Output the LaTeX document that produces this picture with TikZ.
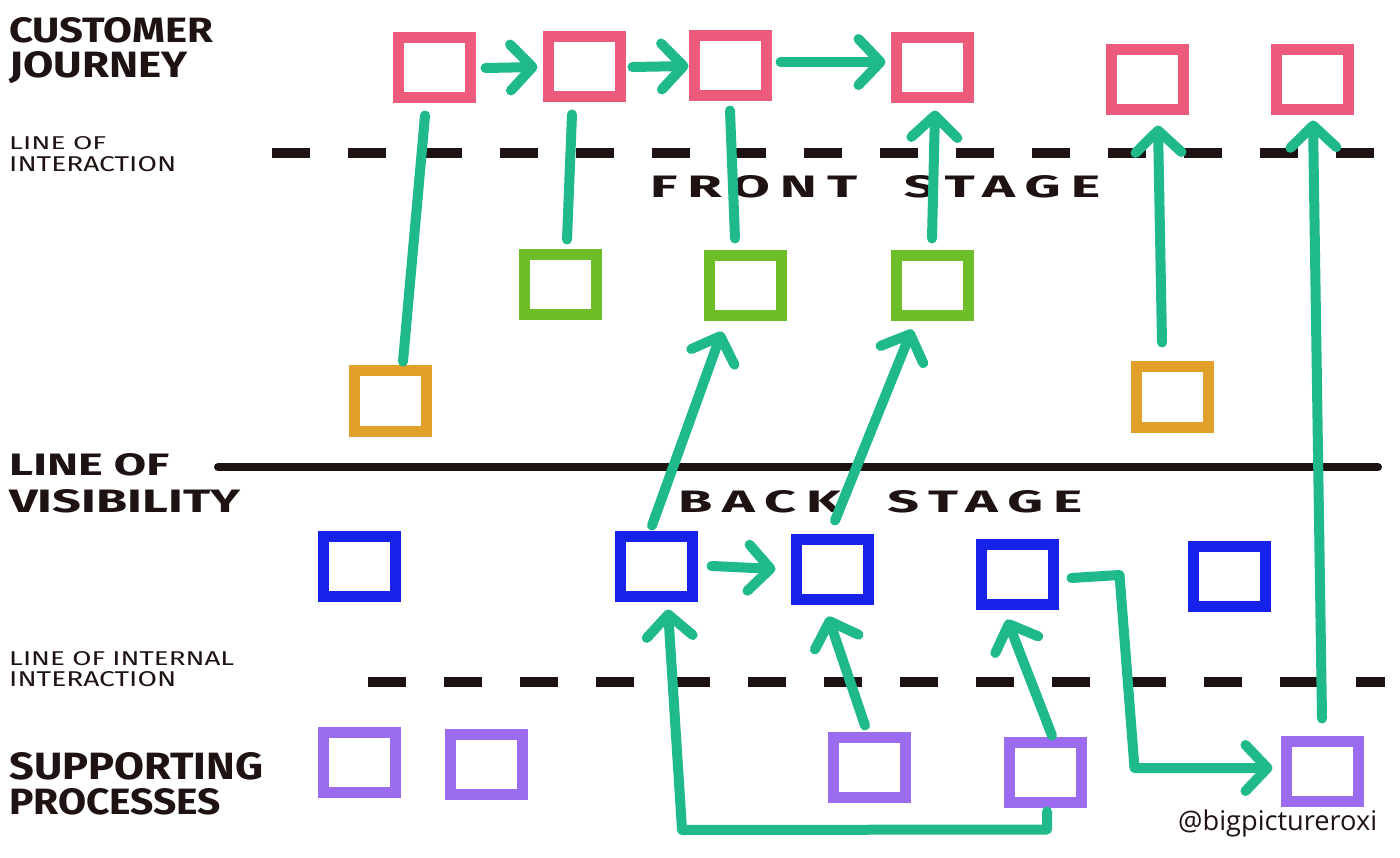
\documentclass[tikz,border=0pt]{standalone}
\usepackage{fontspec}
\usepackage{graphicx}
\setmainfont{Fira Sans}
\newfontfamily\tagfont{Open Sans}
\newfontfamily\spacedfont[LetterSpace=18]{Fira Sans}
\usetikzlibrary{arrows.meta}
\definecolor{cjpink}{HTML}{EC5A7C}
\definecolor{cjgreen}{HTML}{6EBE2A}
\definecolor{cjorange}{HTML}{E0A02A}
\definecolor{cjblue}{HTML}{1622EA}
\definecolor{cjpurple}{HTML}{9B6BF0}
\definecolor{cjteal}{HTML}{1FB98C}
\definecolor{cjink}{HTML}{1E1212}
\newcommand\fitline[3]{\resizebox{#1}{#2}{#3}}
\tikzset{
  sbox/.style={draw=#1, line width=11pt, minimum width=72pt, minimum height=60pt, inner sep=0pt, fill=white},
  flowline/.style={draw=cjteal, line width=10pt, line cap=round, line join=round},
  flowarrow/.style={flowline, -{Straight Barb[length=22pt,width=46pt,round]}},
  sepdash/.style={draw=cjink, line width=10pt, dash pattern=on 38pt off 38pt},
  sepsolid/.style={draw=cjink, line width=8pt, line cap=round},
  big/.style={anchor=base west, inner sep=0pt, font=\bfseries, text=cjink},
  small/.style={anchor=base west, inner sep=0pt, text=cjink},
}
\begin{document}
\begin{tikzpicture}[x=1pt, y=-1pt]
\useasboundingbox[fill=white] (0,0) rectangle (1400,858);

% separator lines
\draw[sepdash] (272,153) -- (1385,153);
\draw[sepsolid] (218,467) -- (1378,467);
\draw[sepdash] (368,682) -- (1385,682);

% labels
\node[big] (cj1) at (9,43) {\fitline{204pt}{25pt}{CUSTOMER}};
\node[big] (cj2) at (9,78) {\fitline{178pt}{26pt}{JOURNEY}};
\node[small] (li1) at (9,150) {\fitline{97pt}{13pt}{LINE OF}};
\node[small] (li2) at (9,172) {\fitline{167pt}{15pt}{INTERACTION}};
\node[big] (lv1) at (9,475) {\fitline{160pt}{22pt}{LINE OF}};
\node[big] (lv2) at (9,512) {\fitline{231pt}{23pt}{VISIBILITY}};
\node[small] (lii1) at (9,665) {\fitline{225pt}{14pt}{LINE OF INTERNAL}};
\node[small] (lii2) at (9,686) {\fitline{167pt}{15pt}{INTERACTION}};
\node[big] (sp1) at (9,779) {\fitline{254pt}{27pt}{SUPPORTING}};
\node[big] (sp2) at (9,814) {\fitline{212pt}{26pt}{PROCESSES}};
\node[big] (fs) at (650,198) {\fitline{450pt}{22pt}{\spacedfont\bfseries FRONT\ \ STAGE}};
\node[big] (bs) at (678,512) {\fitline{404pt}{22pt}{\spacedfont\bfseries BACK\ \ STAGE}};
\node[anchor=base west, inner sep=0pt, text=cjink] (tag) at (1178,830) {\resizebox{199pt}{!}{\tagfont @bigpictureroxi}};

% customer journey
\node[sbox=cjpink] (p1) at (434,68) {};
\node[sbox=cjpink] (p2) at (584,67) {};
\node[sbox=cjpink] (p3) at (730,66) {};
\node[sbox=cjpink] (p4) at (932,68) {};
\node[sbox=cjpink] (p5) at (1147,80) {};
\node[sbox=cjpink] (p6) at (1312,80) {};
% front stage
\node[sbox=cjgreen] (g1) at (560,285) {};
\node[sbox=cjgreen] (g2) at (745,286) {};
\node[sbox=cjgreen] (g3) at (932,286) {};
\node[sbox=cjorange] (o1) at (390,401) {};
\node[sbox=cjorange] (o2) at (1172,397) {};
% back stage
\node[sbox=cjblue] (b1) at (359,566) {};
\node[sbox=cjblue] (b2) at (656,566) {};
\node[sbox=cjblue] (b3) at (832,569) {};
\node[sbox=cjblue] (b4) at (1017,574) {};
\node[sbox=cjblue] (b5) at (1229,576) {};
% supporting processes
\node[sbox=cjpurple] (u1) at (359,762) {};
\node[sbox=cjpurple] (u2) at (486,764) {};
\node[sbox=cjpurple] (u3) at (869,767) {};
\node[sbox=cjpurple] (u4) at (1045,772) {};
\node[sbox=cjpurple] (u5) at (1322,771) {};

% connectors
\draw[flowarrow] ([xshift=10pt]p1.east) -- ([xshift=-5pt]p2.west);
\draw[flowarrow] ([xshift=7pt]p2.east) -- ([xshift=0pt]p3.west);
\draw[flowarrow] ([xshift=9pt,yshift=4pt]p3.east) -- ([xshift=-5pt,yshift=6pt]p4.west);

\draw[flowline] ([xshift=13pt,yshift=4pt]o1.north) -- ([xshift=-9pt,yshift=-12pt]p1.south);
\draw[flowline] ([xshift=7pt,yshift=10pt]g1.north) -- ([xshift=-12pt,yshift=-12pt]p2.south);
\draw[flowline] ([xshift=-10pt,yshift=12pt]g2.north) -- ([xshift=0pt,yshift=-9pt]p3.south);
\draw[flowarrow] ([xshift=0pt,yshift=12pt]g3.north) -- ([xshift=3pt,yshift=-7pt]p4.south);
\draw[flowarrow] ([xshift=-10pt,yshift=19pt]o2.north) -- ([xshift=11pt,yshift=-10pt]p5.south);
\draw[flowarrow] ([xshift=0pt,yshift=17pt]u5.north) -- ([xshift=1pt,yshift=-5pt]p6.south);

\draw[flowarrow] ([xshift=-4pt,yshift=5pt]b2.north) -- ([xshift=-23pt,yshift=-10pt]g2.south);
\draw[flowarrow] ([xshift=3pt,yshift=13pt]b3.north) -- ([xshift=-20pt,yshift=-8pt]g3.south);
\draw[flowarrow] ([xshift=14pt]b2.east) -- ([xshift=-15pt]b3.west);

\draw[flowarrow] ([xshift=-4pt,yshift=6pt]u3.north) -- ([xshift=-4pt,yshift=-12pt]b3.south);
\draw[flowarrow] ([xshift=7pt,yshift=1pt]u4.north) -- ([xshift=-10pt,yshift=-10pt]b4.south);
\draw[flowarrow] ([xshift=2pt,yshift=-4pt]u4.south) -- ++(0,18) -- (682,830) -- ([xshift=12pt,yshift=-8pt]b2.south);
\draw[flowarrow] ([xshift=13pt,yshift=-4pt]b4.east) -- ++(48,-3) -- ++(15,193) -- ([xshift=-8pt,yshift=3pt]u5.west);
\end{tikzpicture}
\end{document}
